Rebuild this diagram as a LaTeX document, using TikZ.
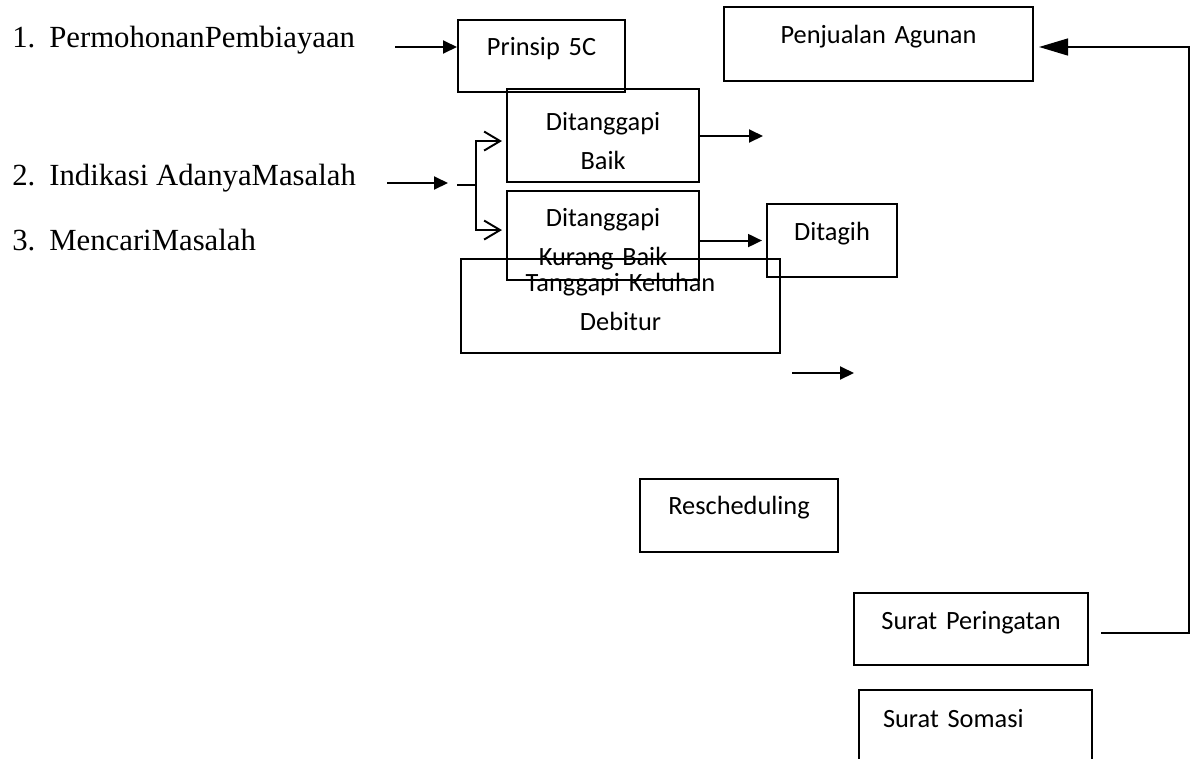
\documentclass[tikz,border=0pt]{standalone}
\usepackage{fontspec}
\setmainfont{Carlito}
\newfontfamily\listfont{Liberation Serif}
\usepackage{tikz}
\usetikzlibrary{arrows.meta}
\tikzset{
    >={Triangle[length=0.28cm,width=0.26cm]},
    box/.style={draw, line width=1.2pt, anchor=north west, inner sep=0pt,
        align=center, font=\fontsize{15}{22.2}\selectfont},
    item/.style={anchor=base west, inner sep=0pt,
        font=\listfont\fontsize{17.5}{21}\selectfont},
    arr/.style={->, line width=1.1pt},
    open/.style={-{Straight Barb[length=0.32cm,width=0.38cm]}, line width=1.1pt}
}

\begin{document}
\begin{tikzpicture}[x=0.02cm, y=-0.02cm]
    \useasboundingbox (0,0) rectangle (1196,758);
    % list on the left
    \node[item] (i1) at (12,47) {\makebox[0.74cm][l]{1.}PermohonanPembiayaan};
    \node[item] (i2) at (12,185) {\makebox[0.74cm][l]{2.}Indikasi AdanyaMasalah};
    \node[item] (i3) at (12,250) {\makebox[0.74cm][l]{3.}MencariMasalah};
    % boxes
    \node[box, text width=3.34cm, text height=0.70cm, text depth=0.74cm] (p5c) at (457,19) {Prinsip 5C};
    \node[box, text width=6.18cm, text height=0.72cm, text depth=0.76cm] (agunan) at (723,6) {Penjualan Agunan};
    \node[box, text width=3.84cm, text height=0.82cm, text depth=1.04cm] (baik) at (506,88) {Ditanggapi\\Baik};
    \node[box, text width=3.84cm, text height=0.70cm, text depth=1.08cm] (kurang) at (506,190) {Ditanggapi\\Kurang Baik};
    \node[box, text width=6.38cm, text height=0.64cm, text depth=1.24cm] (keluhan) at (460,258) {Tanggapi Keluhan\\Debitur};
    \node[box, text width=2.60cm, text height=0.72cm, text depth=0.74cm] (tagih) at (766,203) {Ditagih};
    \node[box, text width=3.96cm, text height=0.70cm, text depth=0.76cm] (resched) at (639,478) {Rescheduling};
    \node[box, text width=4.68cm, text height=0.72cm, text depth=0.72cm] (peringatan) at (853,592) {Surat Peringatan};
    \node[box, align=left, inner xsep=0.48cm, text width=3.70cm, text height=0.74cm, text depth=0.74cm] (somasi) at (858,689) {Surat Somasi};
    % free ends
    \coordinate (a1) at (395,47);
    \coordinate (a2) at (387,183);
    \coordinate (a2e) at (448,183);
    \coordinate (br) at (457,185);
    \coordinate (j) at (476,185);
    \coordinate (baikend) at (763,136);
    \coordinate (f1) at (792,373);
    \coordinate (f2) at (854,373);
    \coordinate (rt) at (1189,47);
    % connectors
    \draw[arr] (a1) -- (a1 -| p5c.west);
    \draw[arr] (a2) -- (a2e);
    \draw[line width=1.1pt] (br) -- (j);
    \draw[open] (j) |- ([xshift=-0.08cm,yshift=-0.11cm]baik.west);
    \draw[open] (j) |- ([xshift=-0.08cm,yshift=0.11cm]kurang.west);
    \draw[arr] (baik.east |- baikend) -- (baikend);
    \draw[arr] (kurang.east |- tagih.west) -- ([xshift=-0.08cm]tagih.west);
    \draw[arr] (f1) -- (f2);
    \draw[line width=0.8pt, -{Triangle[length=0.58cm,width=0.34cm]}]
        ([xshift=0.24cm,yshift=-0.08cm]peringatan.east) -| (rt) -- ([xshift=0.1cm]rt -| agunan.east);
\end{tikzpicture}
\end{document}
